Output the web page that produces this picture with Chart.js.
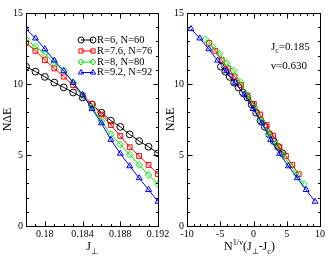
<!DOCTYPE html>
<html>
<head>
<meta charset="utf-8">
<script src="https://cdn.jsdelivr.net/npm/chart.js@4/dist/chart.umd.min.js"></script>
<style>
  body { margin: 0; background: #fff; }
  #wrap { position: relative; width: 332px; height: 257px; }
  canvas { position: absolute; left: 0; top: 0; }
</style>
</head>
<body>
<div id="wrap">
  <canvas id="left" width="332" height="257"></canvas>
  <canvas id="right" width="332" height="257"></canvas>
</div>
<script>
// Dados
const jPerp = [0.178, 0.179, 0.180, 0.181, 0.182, 0.183, 0.184, 0.185,
               0.186, 0.187, 0.188, 0.189, 0.190, 0.191, 0.192];
const serieNomes = ['R=6, N=60', 'R=7.6, N=76', 'R=8, N=80', 'R=9.2, N=92'];
const gapR6  = [11.22, 10.87, 10.50, 10.10, 9.76, 9.40, 9.05, 8.55, 7.98, 7.42, 6.98, 6.45, 5.98, 5.58, 5.12];
const gapR76 = [12.90, 12.34, 11.68, 11.10, 10.52, 9.92, 9.20, 8.60, 7.85, 7.11, 6.34, 5.55, 4.93, 4.30, 3.65];
const gapR8  = [13.15, 12.64, 12.12, 11.50, 10.95, 10.12, 9.15, 8.35, 7.40, 6.45, 5.75, 5.02, 4.30, 3.60, 2.95];
const gapR92 = [13.88, 13.22, 12.46, 11.66, 10.92, 10.10, 9.25, 8.25, 7.25, 6.08, 5.10, 4.22, 3.38, 2.55, 1.72];
// eixo x do painel direito, N^(1/nu)(J - Jc)
const escR6  = [-4.90, -4.24, -3.57, -2.91, -2.25, -1.59, -0.93, -0.27, 0.39, 1.05, 1.72, 2.38, 3.04, 3.70, 4.37];
const escR76 = [-6.70, -5.74, -4.77, -3.81, -2.84, -1.88, -0.91, 0.05, 1.01, 1.98, 2.94, 3.90, 4.87, 5.83, 6.80];
const escR8  = [-7.25, -6.19, -5.13, -4.07, -3.01, -1.95, -0.89, 0.18, 1.24, 2.30, 3.36, 4.42, 5.48, 6.54, 7.60];
const escR92 = [-9.40, -8.07, -6.74, -5.40, -4.07, -2.74, -1.41, -0.08, 1.25, 2.58, 3.92, 5.25, 6.58, 7.92, 9.25];
const jcTexto = '0.185';
const nuTexto = '0.630';

const gaps = [gapR6, gapR76, gapR8, gapR92];
const escalados = [escR6, escR76, escR8, escR92];
const cores = ['#000000', '#ff0000', '#00ee00', '#0000ff'];
const simbolos = ['circle', 'rect', 'rectRot', 'triangle'];
const fonte = 'Liberation Serif, Times New Roman, serif';

// xs: uma lista de x por serie
function montaDatasets(xs) {
    return gaps.map((g, i) => ({
        label: serieNomes[i],
        data: g.map((y, k) => ({ x: xs[i][k], y: y })),
        borderColor: cores[i],
        backgroundColor: 'rgba(0,0,0,0)',
        borderWidth: 1,
        pointStyle: simbolos[i],
        pointRadius: 3.4,
        pointBorderWidth: 1,
        pointBorderColor: cores[i],
        pointBackgroundColor: 'rgba(0,0,0,0)',
        showLine: true,
        tension: 0,
        order: 3 - i
    }));
}

// texto com sub/sobrescritos: partes [texto, tipo]
function larguraPartes(ctx, partes, tam) {
    let w = 0;
    partes.forEach(p => {
        ctx.font = (p[1] ? tam * 0.7 : tam) + 'px ' + fonte;
        w += ctx.measureText(p[0]).width;
    });
    return w;
}
function desenhaPartes(ctx, partes, x, y, tam) {
    partes.forEach(p => {
        const t = p[1] ? tam * 0.7 : tam;
        ctx.font = t + 'px ' + fonte;
        let dy = 0;
        if (p[1] === 'sub') dy = tam * 0.3;
        if (p[1] === 'sup') dy = -tam * 0.4;
        ctx.fillText(p[0], x, y + dy);
        x += ctx.measureText(p[0]).width;
    });
}

const molduraPlugin = {
    id: 'moldura',
    afterDraw(chart, args, o) {
        const ctx = chart.ctx;
        const a = chart.chartArea;
        const L = Math.round(a.left) + 0.5, R = Math.round(a.right) + 0.5;
        const T = Math.round(a.top) + 0.5, B = Math.round(a.bottom) + 0.5;
        ctx.save();
        ctx.strokeStyle = '#000';
        ctx.lineWidth = 1;
        ctx.strokeRect(L, T, R - L, B - T);
        ctx.beginPath();
        chart.scales.x.ticks.forEach(t => {
            const px = Math.round(chart.scales.x.getPixelForValue(t.value)) + 0.5;
            const len = o.xMaior(t.value) ? 5 : 2.5;
            ctx.moveTo(px, B); ctx.lineTo(px, B - len);
            ctx.moveTo(px, T); ctx.lineTo(px, T + len);
        });
        chart.scales.y.ticks.forEach(t => {
            const py = Math.round(chart.scales.y.getPixelForValue(t.value)) + 0.5;
            const len = t.value % 5 === 0 ? 5 : 2.5;
            ctx.moveTo(L, py); ctx.lineTo(L + len, py);
            ctx.moveTo(R, py); ctx.lineTo(R - len, py);
        });
        ctx.stroke();

        ctx.fillStyle = '#000';
        ctx.textBaseline = 'alphabetic';
        // titulo x
        const w = larguraPartes(ctx, o.xTitulo, 12);
        desenhaPartes(ctx, o.xTitulo, (a.left + a.right) / 2 - w / 2 + o.xDesloc, 250, 12);
        // titulo y
        ctx.save();
        ctx.translate(o.yTituloX, (a.top + a.bottom) / 2);
        ctx.rotate(-Math.PI / 2);
        ctx.textAlign = 'center';
        ctx.font = '12px ' + fonte;
        ctx.fillText('N\u0394E', 0, 0);
        ctx.restore();

        if (o.legenda) {
            const yl = [39.5, 50.5, 61.5, 72];
            chart.data.datasets.forEach((ds, i) => {
                const y = yl[i] + 0.5;
                ctx.strokeStyle = ds.borderColor;
                ctx.fillStyle = 'rgba(0,0,0,0)';
                ctx.lineWidth = 1;
                ctx.beginPath();
                ctx.moveTo(81, y); ctx.lineTo(93, y);
                ctx.stroke();
                [81, 93].forEach(xm => {
                    Chart.helpers.drawPoint(ctx, {
                        pointStyle: ds.pointStyle, radius: 3, borderWidth: 1
                    }, xm, y);
                });
                ctx.font = '10.5px ' + fonte;
                ctx.textBaseline = 'middle';
                ctx.fillStyle = '#000';
                ctx.fillText(ds.label, 97, y);
            });
        }
        if (o.anotacao) {
            ctx.fillStyle = '#000';
            ctx.textBaseline = 'alphabetic';
            desenhaPartes(ctx, [['J', null], ['c', 'sub'], ['=' + jcTexto, null]], 271, 50, 11);
            desenhaPartes(ctx, [['\u03bd=' + nuTexto, null]], 271, 69, 11);
        }
        ctx.restore();
    }
};

function opcoesPainel(cfg) {
    return {
        responsive: false,
        animation: false,
        layout: { padding: cfg.padding },
        plugins: {
            legend: { display: false },
            tooltip: { enabled: false },
            moldura: cfg.moldura
        },
        scales: {
            x: {
                type: 'linear',
                min: cfg.xMin, max: cfg.xMax,
                grid: { display: false, drawTicks: false },
                border: { display: false },
                afterFit: s => { s.height = 31; },
                ticks: {
                    stepSize: cfg.xPasso,
                    autoSkip: false,
                    maxRotation: 0,
                    padding: 2,
                    color: '#000',
                    font: { family: fonte, size: 10 },
                    callback: cfg.xRotulo
                }
            },
            y: {
                min: 0, max: 15,
                grid: { display: false, drawTicks: false },
                border: { display: false },
                afterFit: s => { s.width = cfg.yLargura; },
                ticks: {
                    stepSize: 1,
                    autoSkip: false,
                    padding: 3,
                    color: '#000',
                    font: { family: fonte, size: 10 },
                    callback: v => (v % 5 === 0 ? v : '')
                }
            }
        }
    };
}

const maiorJ = v => Math.round(v * 1000) % 4 === 0;

window.onload = function() {
    new Chart(document.getElementById('left'), {
        type: 'scatter',
        data: { datasets: montaDatasets([jPerp, jPerp, jPerp, jPerp]) },
        options: opcoesPainel({
            padding: { top: 13, right: 174, left: 0, bottom: 0 },
            xMin: 0.178, xMax: 0.192, xPasso: 0.001,
            yLargura: 26,
            xRotulo: v => (maiorJ(v) ? String(Math.round(v * 1000) / 1000) : ''),
            moldura: {
                xMaior: maiorJ,
                xTitulo: [['J', null], ['\u22a5', 'sub']],
                xDesloc: 0,
                yTituloX: 11,
                legenda: true
            }
        }),
        plugins: [molduraPlugin]
    });
    new Chart(document.getElementById('right'), {
        type: 'scatter',
        data: { datasets: montaDatasets(escalados) },
        options: opcoesPainel({
            padding: { top: 13, right: 12, left: 166, bottom: 0 },
            xMin: -10, xMax: 10, xPasso: 1,
            yLargura: 21,
            xRotulo: v => (v % 5 === 0 ? v : ''),
            moldura: {
                xMaior: v => v % 5 === 0,
                xTitulo: [['N', null], ['1/\u03bd', 'sup'], ['(J', null], ['\u22a5', 'sub'],
                          ['-J', null], ['c', 'sub'], [')', null]],
                xDesloc: -4,
                yTituloX: 174,
                legenda: false,
                anotacao: true
            }
        }),
        plugins: [molduraPlugin]
    });
};
</script>
</body>
</html>
